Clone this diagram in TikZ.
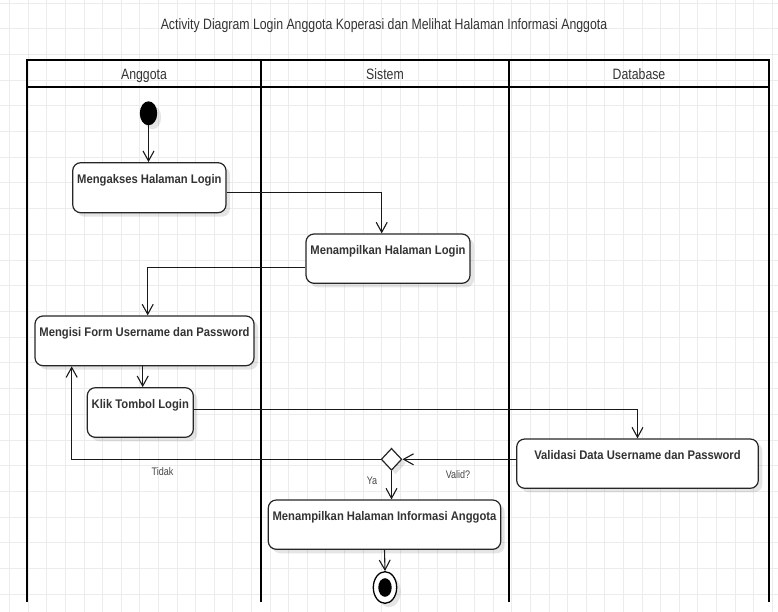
\documentclass[tikz,border=0pt]{standalone}
\usepackage{fontspec}
\setmainfont{Liberation Sans}
\newfontfamily\narrowfont{Liberation Sans}[FakeStretch=0.82]
\newfontfamily\actfont{Liberation Sans}[FakeStretch=0.9]
\usetikzlibrary{arrows.meta,shapes.geometric,shadows,calc}
\definecolor{gridc}{HTML}{ECECEC}
\definecolor{txt}{HTML}{333333}
\definecolor{lbl}{HTML}{444444}
\begin{document}
\begin{tikzpicture}[x=1pt,y=-1pt,
  act/.style={draw=black!85, line width=1.2pt, rounded corners=8pt, fill=white,
    drop shadow={shadow xshift=4pt, shadow yshift=-4pt, opacity=0.10, fill=black},
    inner sep=0pt},
  acttext/.style={anchor=base, yshift=-21.3pt, inner sep=0pt, text=txt,
    font=\actfont\bfseries\fontsize{12.5}{15}\selectfont},
  headtext/.style={anchor=base, inner sep=0pt, text=txt,
    font=\narrowfont\fontsize{15}{18}\selectfont},
  small/.style={anchor=center, inner sep=0pt, text=lbl,
    font=\narrowfont\fontsize{11}{13}\selectfont},
  arr/.style={-{Straight Barb[length=10pt,width=11pt]}, line width=1.1pt, draw=black!90},
  plain/.style={line width=1.1pt, draw=black!90},
  lane/.style={line width=2pt, draw=black},
]
\useasboundingbox (0,0) rectangle (778,612);
% grid
\begin{scope}
\clip (0,0) rectangle (778,612);
\foreach \k in {0,...,41} \draw[gridc, line width=0.8pt] ({9.5+18.6*\k},0) -- ({9.5+18.6*\k},612);
\foreach \k in {0,...,23} \draw[gridc, line width=0.8pt] (0,{3+25.7*\k}) -- (778,{3+25.7*\k});
\end{scope}

% title
\node[headtext] (title) at (384,30) {Activity Diagram Login Anggota Koperasi dan Melihat Halaman Informasi Anggota};

% swimlanes
\draw[lane] (27,87) -- (27,602);
\draw[lane] (261,60) -- (261,602);
\draw[lane] (509,60) -- (509,602);
\draw[lane] (769,87) -- (769,602);
\draw[line width=2.4pt] (27,60) rectangle (769,87);
\node[headtext] (h1) at (144,80) {Anggota};
\node[headtext] (h2) at (385,80) {Sistem};
\node[headtext] (h3) at (639,80) {Database};

% start
\node[ellipse, fill=black, inner sep=0pt, minimum width=17.4pt, minimum height=24pt,
  drop shadow={shadow xshift=4pt, shadow yshift=-4pt, opacity=0.10, fill=black}] (start) at (148.5,113.3) {};

% activities
\node[act, minimum width=153.3pt, minimum height=50pt,
  label={[acttext]north:Mengakses Halaman Login}] (akses) at (149.35,187.7) {};
\node[act, minimum width=164pt, minimum height=49.3pt,
  label={[acttext]north:Menampilkan Halaman Login}] (tampil) at (388,258.65) {};
\node[act, minimum width=219pt, minimum height=49.7pt,
  label={[acttext]north:Mengisi Form Username dan Password}] (isi) at (144.5,340.85) {};
\node[act, minimum width=106pt, minimum height=49.6pt,
  label={[acttext]north:Klik Tombol Login}] (klik) at (140.3,412.5) {};
\node[act, minimum width=241.6pt, minimum height=49.3pt,
  label={[acttext]north:Validasi Data Username dan Password}] (valid) at (637.5,463.65) {};
\node[act, minimum width=232.4pt, minimum height=49.3pt,
  label={[acttext]north:Menampilkan Halaman Informasi Anggota}] (info) at (384.5,524.65) {};

% decision
\node[diamond, draw=black!85, line width=1.2pt, fill=white, inner sep=0pt,
  minimum width=20.6pt, minimum height=22pt,
  drop shadow={shadow xshift=4pt, shadow yshift=-4pt, opacity=0.10, fill=black}] (dec) at (391.5,459.3) {};

% end
\node[ellipse, draw=black, line width=1.3pt, fill=white, inner sep=0pt,
  minimum width=23.4pt, minimum height=31.6pt,
  drop shadow={shadow xshift=4pt, shadow yshift=-4pt, opacity=0.10, fill=black}] (end) at (385,587.5) {};
\node[ellipse, fill=black, inner sep=0pt, minimum width=13.4pt, minimum height=18.6pt] (endin) at (385,587.5) {};

% connectors
\draw[arr] (start.south) -- (start.south |- akses.north);
\draw[arr] ([yshift=-5pt]akses.east) -| ([xshift=-6.3pt]tampil.north);
\draw[arr] ([yshift=-8.6pt]tampil.west) -| ([xshift=3.2pt]isi.north);
\draw[arr] ([xshift=2.4pt]klik.north |- isi.south) -- ([xshift=2.4pt]klik.north);
\draw[arr] ([yshift=3.2pt]klik.east) -| (valid.north);
\draw[arr] (dec.east -| valid.west) -- (dec.east);
\draw[arr] (dec.west) -| ([xshift=-72.8pt]isi.south);
\draw[arr] (dec.south) -- (dec.south |- info.north);
\draw[arr] (info.south) -- (end.north);

% labels
\node[small] (tidak) at (162.5,471.5) {Tidak};
\node[small] (validq) at (458,475) {Valid?};
\node[small] (ya) at (372,481) {Ya};
\end{tikzpicture}
\end{document}
